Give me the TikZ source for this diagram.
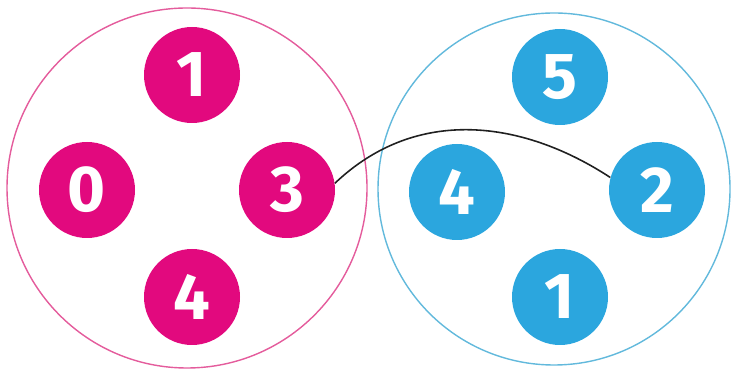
\documentclass[tikz,border=0pt]{standalone}
\usepackage{fontspec}
\setmainfont{Fira Sans}
\usepackage{xcolor}
\usepackage{tikz}

\definecolor{magentadot}{HTML}{E2097E}
\definecolor{bluedot}{HTML}{2BA6DE}
\definecolor{pinkring}{HTML}{E45C9C}
\definecolor{bluering}{HTML}{62B9DC}

\begin{document}
\begin{tikzpicture}
  \tikzstyle{ring} = [draw, circle, line width=0.8pt, inner sep=0pt]
  \tikzstyle{dot} = [circle, minimum size=1.92cm, inner sep=0pt,
    text=white, font=\fontsize{37}{37}\selectfont\bfseries]

  \useasboundingbox (0,0) rectangle (14.7,7.48);

  % left group
  \node[ring, pinkring, minimum size=7.2cm] (left) at (3.74,3.72) {};
  \node[dot, fill=magentadot] (a1) at (3.84,5.98) {1};
  \node[dot, fill=magentadot] (a0) at (1.74,3.68) {0};
  \node[dot, fill=magentadot] (a3) at (5.74,3.68) {3};
  \node[dot, fill=magentadot] (a4) at (3.84,1.54) {4};

  % right group
  \node[ring, bluering, minimum size=7.04cm] (right) at (11.08,3.70) {};
  \node[dot, fill=bluedot] (b5) at (11.2,5.94) {5};
  \node[dot, fill=bluedot] (b4) at (9.14,3.64) {4};
  \node[dot, fill=bluedot] (b2) at (13.14,3.68) {2};
  \node[dot, fill=bluedot] (b1) at (11.2,1.54) {1};

  \draw[line width=0.9pt, gray!25!black] (a3.8)
    .. controls +(1.64,1.56) and +(-1.74,1.14) .. (b2.165);
\end{tikzpicture}
\end{document}
